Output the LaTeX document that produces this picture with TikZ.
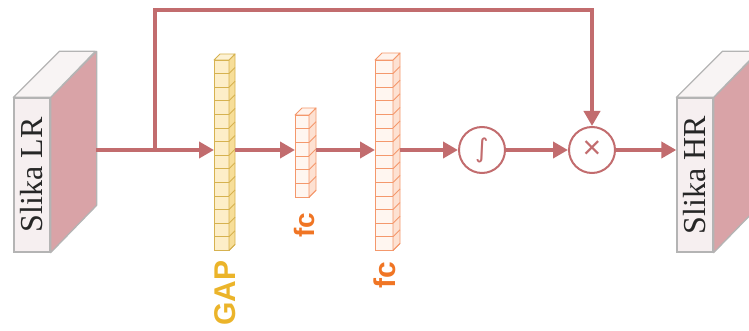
\documentclass[tikz,border=0pt]{standalone}
\usepackage{fontspec}
\setmainfont{Liberation Serif}
\newfontfamily\labfont{Liberation Sans}
\newfontfamily\symfont{DejaVu Sans}
\usetikzlibrary{arrows.meta,calc}
\definecolor{lnk}{RGB}{194,108,110}
\definecolor{boxedge}{RGB}{180,180,180}
\definecolor{boxfront}{RGB}{246,239,240}
\definecolor{boxtop}{RGB}{248,244,244}
\definecolor{boxside}{RGB}{217,163,167}
\definecolor{gapedge}{RGB}{214,178,80}
\definecolor{gapfront}{RGB}{253,238,200}
\definecolor{gapside}{RGB}{247,222,152}
\definecolor{gaptop}{RGB}{253,242,212}
\definecolor{gaplab}{RGB}{235,180,42}
\definecolor{fcedge}{RGB}{244,152,108}
\definecolor{fcfront}{RGB}{255,246,240}
\definecolor{fcside}{RGB}{253,225,210}
\definecolor{fctop}{RGB}{255,243,236}
\definecolor{fclab}{RGB}{240,117,36}
\newcommand\cellcol[8]{%
  \node[inner sep=0, minimum width=#4pt, minimum height={#5*#6pt}, anchor=north west] (#1) at (#2,#3) {};
  \foreach \i in {1,...,#5} {
    \draw[line width=0.9pt, draw=#8edge, fill=#8front] (#2,{#3+(\i-1)*#6}) rectangle ++(#4,#6);
  }
  \filldraw[line width=0.9pt, draw=#8edge, fill=#8side, line join=round] ({#2+#4},#3) -- ++(#7,-#7) -- ++(0,{#5*#6}) -- ++(-#7,#7) -- cycle;
  \foreach \i in {1,...,#5} {
    \draw[line width=0.9pt, draw=#8edge] ({#2+#4},{#3+\i*#6}) -- ++(#7,-#7);
  }
  \filldraw[line width=0.9pt, draw=#8edge, fill=#8top, line join=round] (#2,#3) -- ++(#7,-#7) -- ++(#4,0) -- ++(-#7,#7) -- cycle;
}
\begin{document}
\begin{tikzpicture}[x=1pt,y=-1pt,
  frontbox/.style={draw=boxedge, fill=boxfront, line width=1.3pt, inner sep=0, minimum width=36pt, minimum height=154pt},
  boxlab/.style={rotate=90, inner sep=0, text=black!85, font=\fontsize{32}{32}\selectfont},
  arr/.style={draw=lnk, line width=3.8pt, -{Triangle[length=15pt,width=16pt]}},
  op/.style={circle, draw=lnk, line width=2pt, fill=white, minimum size=46pt, inner sep=0, text=lnk},
  lab/.style={rotate=90, inner sep=0}]
\useasboundingbox (0,0) rectangle (749,331);

% LR box
\node[frontbox] (lr) at (32,175) {};
\filldraw[draw=boxedge, fill=boxside, line width=1.3pt, line join=round] (lr.north east) -- ++(46,-46) -- ++(0,154) -- (lr.south east) -- cycle;
\filldraw[draw=boxedge, fill=boxtop, line width=1.3pt, line join=round] (lr.north west) -- ++(46,-46) -- ++(36,0) -- (lr.north east) -- cycle;
\node[boxlab] (lrtext) at (lr.center) {Slika LR};

% HR box
\node[frontbox] (hr) at (695,175) {};
\filldraw[draw=boxedge, fill=boxside, line width=1.3pt, line join=round] (hr.north east) -- ++(46,-46) -- ++(0,154) -- (hr.south east) -- cycle;
\filldraw[draw=boxedge, fill=boxtop, line width=1.3pt, line join=round] (hr.north west) -- ++(46,-46) -- ++(36,0) -- (hr.north east) -- cycle;
\node[boxlab] (hrtext) at (hr.center) {Slika HR};

% columns
\cellcol{gap}{214}{60}{15}{14}{13.6}{6}{gap}
\cellcol{fca}{295}{115}{14}{6}{13.7}{7}{fc}
\cellcol{fcb}{375}{60}{18}{14}{13.6}{7}{fc}

\node[lab, text=gaplab, font=\labfont\bfseries\fontsize{30}{30}\selectfont] (gaplabel) at (225,293) {GAP};
\node[lab, text=fclab, font=\labfont\bfseries\fontsize{28}{28}\selectfont] (fcalabel) at (304,225) {fc};
\node[lab, text=fclab, font=\labfont\bfseries\fontsize{30}{30}\selectfont] (fcblabel) at (385,275) {fc};

% operators
\node[op, font=\symfont\fontsize{26}{26}\selectfont] (sig) at (482,150) {∫};
\node[op, font=\labfont\fontsize{32}{32}\selectfont] (mul) at (592,150) {×};

% connectors
\coordinate (lrout) at (96,150);
\coordinate (branch) at (155,150);
\coordinate (gapout) at ([xshift=6pt]gap.east);
\coordinate (fcaout) at ([xshift=7pt]fca.east);
\coordinate (fcbout) at ([xshift=7pt]fcb.east);
\draw[arr] (lrout) -- (lrout -| gap.west);
\draw[arr] (gapout |- lrout) -- (lrout -| fca.west);
\draw[arr] (fcaout |- lrout) -- (lrout -| fcb.west);
\draw[arr] (fcbout |- lrout) -- (sig.west);
\draw[arr] (sig.east) -- (mul.west);
\draw[arr] (mul.east) -- (mul -| hr.west);
\draw[arr] (branch) -- ++(0,-140) -| (mul.north);
\end{tikzpicture}
\end{document}
